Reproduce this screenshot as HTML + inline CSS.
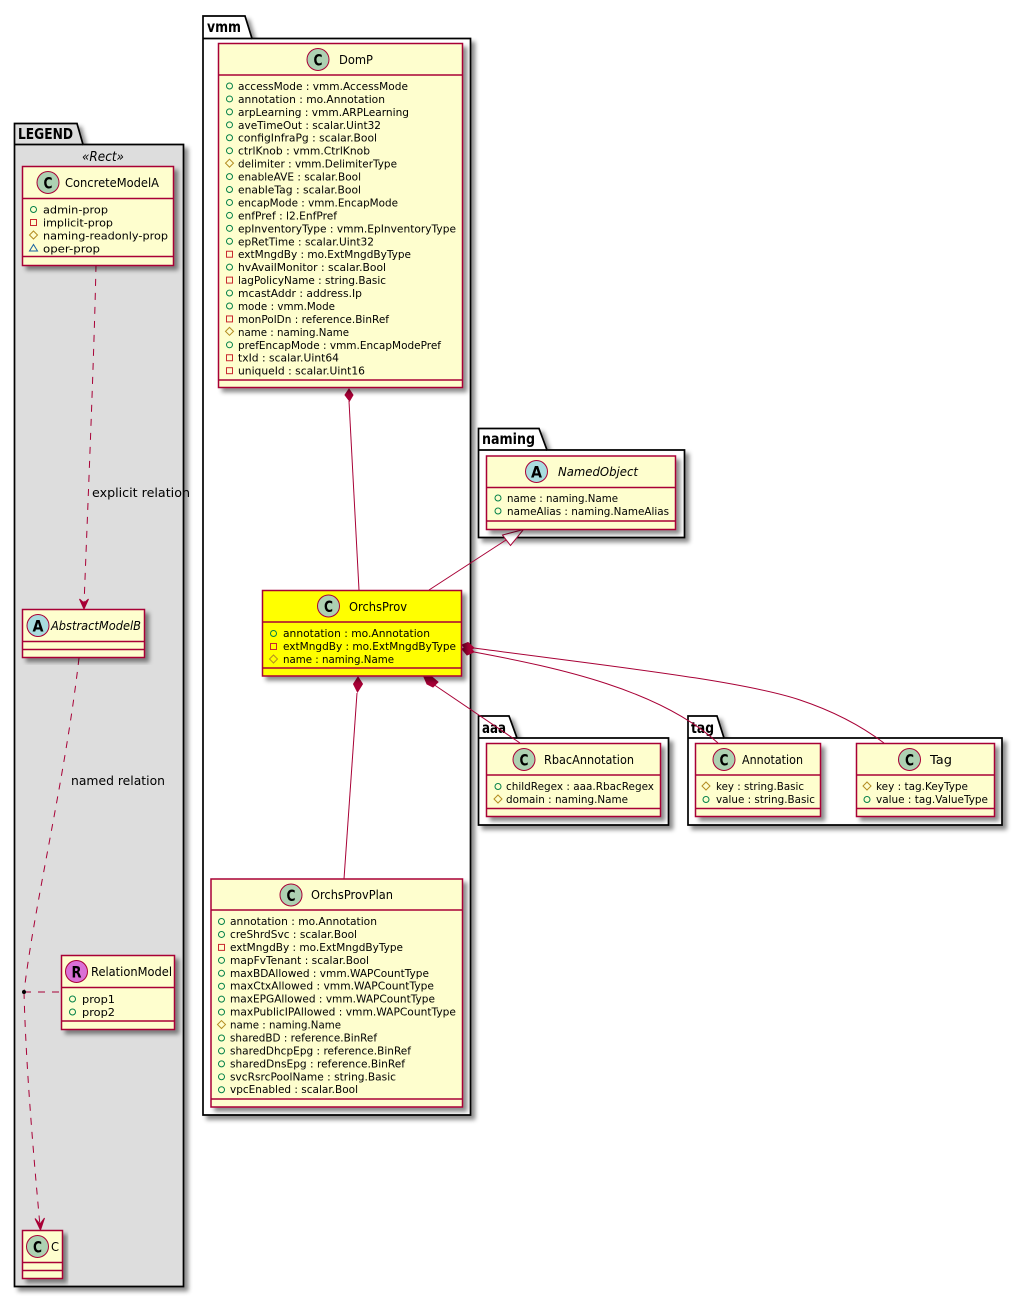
<!DOCTYPE html>
<html>
<head>
<meta charset="utf-8">
<style>
html,body{margin:0;padding:0;background:#fff;width:1023px;height:1297px;overflow:hidden}
svg{display:block}
text{font-family:"DejaVu Sans","Liberation Sans",sans-serif;fill:#000}
.r{font-size:11px}
.t{font-size:12.5px}
.i{font-style:italic}
.p{font-size:15px;font-weight:bold}
.l{font-size:12.5px}
.c{font-size:16px;font-weight:bold;text-anchor:middle}
.pk{stroke:#000;stroke-width:1.7;fill:#fff}
.b{fill:#FEFECE;stroke:#A80036;stroke-width:1.5}
.d{stroke:#A80036;stroke-width:1.5;fill:none}
.cn{stroke:#A80036;stroke-width:1;fill:none}
.da{stroke-dasharray:7,7}
.ci{fill:#ADD1B2;stroke:#A80036;stroke-width:1}
.fd{fill:#A80036;stroke:#A80036;stroke-width:1}
</style>
</head>
<body>
<svg xmlns="http://www.w3.org/2000/svg" width="1023" height="1297" viewBox="0 0 1023 1297">
<defs>
<filter id="s" x="-10%" y="-10%" width="125%" height="125%">
<feDropShadow dx="4" dy="4" stdDeviation="2" flood-color="#000" flood-opacity="0.45"/>
</filter>
<circle id="pub" r="3" fill="none" stroke="#038048"/>
<rect id="pri" x="-3" y="-3" width="6" height="6" fill="none" stroke="#C82930"/>
<polygon id="pro" points="0,-4 4,0 0,4 -4,0" fill="none" stroke="#B38D22"/>
<polygon id="pkg" points="0,-3.5 4,3 -4,3" fill="none" stroke="#1963A0"/>
</defs>

<!-- LEGEND -->
<g filter="url(#s)"><path class="pk" style="fill:#DDD" d="M14.500,144.500 V123.500 H77 L83,144.500 H183.500 V1286.500 H14.500 Z"/></g>
<path class="pk" style="fill:none" d="M14.500,144.500 H83"/>
<text class="p" x="18" y="139" textLength="55" lengthAdjust="spacingAndGlyphs">LEGEND</text>
<text class="t i" x="82" y="161" textLength="42" lengthAdjust="spacingAndGlyphs" style="font-size:13px">«Rect»</text>

<!-- vmm -->
<g filter="url(#s)"><path class="pk" d="M203,38.500 V16 H245 L252,38.500 H470.500 V1115 H203 Z"/></g>
<path class="pk" style="fill:none" d="M203,38.500 H252"/>
<text class="p" x="207" y="32" textLength="34" lengthAdjust="spacingAndGlyphs">vmm</text>

<!-- naming -->
<g filter="url(#s)"><path class="pk" d="M478.500,450 V428.500 H539 L547,450 H684.500 V537.500 H478.500 Z"/></g>
<path class="pk" style="fill:none" d="M478.500,450 H547"/>
<text class="p" x="482" y="444" textLength="53" lengthAdjust="spacingAndGlyphs">naming</text>

<!-- aaa -->
<g filter="url(#s)"><path class="pk" d="M478.500,738 V716 H509 L517,738 H668.500 V825 H478.500 Z"/></g>
<path class="pk" style="fill:none" d="M478.500,738 H517"/>
<text class="p" x="482" y="733" textLength="24" lengthAdjust="spacingAndGlyphs">aaa</text>

<!-- tag -->
<g filter="url(#s)"><path class="pk" d="M688,738 V716 H717 L724,738 H1002 V825 H688 Z"/></g>
<path class="pk" style="fill:none" d="M688,738 H724"/>
<text class="p" x="691" y="733" textLength="23" lengthAdjust="spacingAndGlyphs">tag</text>

<!-- connectors -->
<path class="cn da" d="M96,265 C94,360 88,500 84,605"/>
<polygon class="fd" points="84,609 79.500,599 84,603 88.500,599"/>
<text class="l" x="92" y="497" textLength="98" lengthAdjust="spacingAndGlyphs">explicit relation</text>
<path class="cn da" d="M79,658 C65,780 35,900 24,992"/>
<text class="l" x="71" y="785" textLength="94" lengthAdjust="spacingAndGlyphs">named relation</text>
<path class="cn da" d="M24,992 C26,1070 34,1160 40,1226"/>
<polygon class="fd" points="40.500,1230 35,1218.500 40,1224 44.500,1218"/>
<path class="cn da" d="M24,992 H61"/>
<circle cx="24" cy="992" r="2" fill="#000"/>

<path class="cn" d="M349,401 L359,590"/>
<polygon class="fd" points="349,389 353,395 349.500,401 345,395"/>
<path class="cn" d="M429,590 L506,540"/>
<polygon points="523.500,529.500 502.500,535 510.500,545.500" fill="#fff" stroke="#A80036" stroke-width="1"/>
<path class="cn" d="M357,693 L344,879"/>
<polygon class="fd" points="358,677 362.500,684 357.500,692 353.500,684"/>
<path class="cn" d="M433,684 L520,743"/>
<polygon class="fd" points="424,677 432,677 438,682 433,687 427,684"/>
<path class="cn" d="M474,652 C560,668 660,690 718,743"/>
<polygon class="fd" points="462,649 468,645.500 474,652 467,655"/>
<path class="cn" d="M474,648 C600,665 740,680 800,700 C830,710 860,725 884,743"/>
<polygon class="fd" points="462,645 468,642.500 474,648 468,651"/>

<!-- ConcreteModelA -->
<rect class="b" x="22.500" y="166.500" width="151" height="99" filter="url(#s)"/>
<path class="d" d="M22.500,198.500 H173.500 M22.500,256.500 H173.500"/>
<circle class="ci" cx="48" cy="182.500" r="11"/><text class="c" x="48" y="188.500" textLength="9" lengthAdjust="spacingAndGlyphs">C</text>
<text class="t" x="65" y="187" textLength="94" lengthAdjust="spacingAndGlyphs">ConcreteModelA</text>
<use href="#pub" x="33.500" y="209.500"/><text class="r" x="43" y="213.500" textLength="65" lengthAdjust="spacingAndGlyphs">admin-prop</text>
<use href="#pri" x="33.500" y="222.500"/><text class="r" x="43" y="226.500" textLength="70" lengthAdjust="spacingAndGlyphs">implicit-prop</text>
<use href="#pro" x="33.500" y="235"/><text class="r" x="43" y="239.500" textLength="125" lengthAdjust="spacingAndGlyphs">naming-readonly-prop</text>
<use href="#pkg" x="33.500" y="248"/><text class="r" x="43" y="252.500" textLength="57" lengthAdjust="spacingAndGlyphs">oper-prop</text>

<!-- AbstractModelB -->
<rect class="b" x="22.500" y="609.500" width="122" height="48" filter="url(#s)"/>
<path class="d" d="M22.500,641.500 H144.500 M22.500,649.500 H144.500"/>
<circle class="ci" style="fill:#A9DCDF" cx="38" cy="625.500" r="11"/><text class="c" x="38" y="631.500" textLength="11" lengthAdjust="spacingAndGlyphs">A</text>
<text class="t i" x="51" y="630" textLength="90" lengthAdjust="spacingAndGlyphs">AbstractModelB</text>

<!-- RelationModel -->
<rect class="b" x="61.500" y="955.500" width="113" height="74" filter="url(#s)"/>
<path class="d" d="M61.500,987.500 H174.500 M61.500,1021 H174.500"/>
<circle class="ci" style="fill:#DA70D6" cx="76.500" cy="971.500" r="11"/><text class="c" x="76.500" y="977.500" textLength="10" lengthAdjust="spacingAndGlyphs">R</text>
<text class="t" x="91" y="976" textLength="81" lengthAdjust="spacingAndGlyphs">RelationModel</text>
<use href="#pub" x="72.500" y="999"/><text class="r" x="82" y="1003" textLength="33" lengthAdjust="spacingAndGlyphs">prop1</text>
<use href="#pub" x="72.500" y="1012"/><text class="r" x="82" y="1016" textLength="33" lengthAdjust="spacingAndGlyphs">prop2</text>

<!-- C -->
<rect class="b" x="22.500" y="1230.500" width="40" height="48" filter="url(#s)"/>
<path class="d" d="M22.500,1262.500 H62.500 M22.500,1270.500 H62.500"/>
<circle class="ci" cx="37.500" cy="1246.500" r="11"/><text class="c" x="37.500" y="1252.500" textLength="9" lengthAdjust="spacingAndGlyphs">C</text>
<text class="t" x="51" y="1251" textLength="8" lengthAdjust="spacingAndGlyphs">C</text>

<!-- DomP -->
<rect class="b" x="218.500" y="43.500" width="244" height="344" filter="url(#s)"/>
<path class="d" d="M218.500,75 H462.500 M218.500,380 H462.500"/>
<circle class="ci" cx="318" cy="59.500" r="11"/><text class="c" x="318" y="65.500" textLength="9" lengthAdjust="spacingAndGlyphs">C</text>
<text class="t" x="339" y="64" textLength="34" lengthAdjust="spacingAndGlyphs">DomP</text>
<g transform="matrix(1 0 0 0.9954 0 0.4)">
<use href="#pub" x="229.500" y="86"/><text class="r" x="238" y="90" textLength="170" lengthAdjust="spacingAndGlyphs">accessMode : vmm.AccessMode</text>
<use href="#pub" x="229.500" y="99"/><text class="r" x="238" y="103" textLength="147" lengthAdjust="spacingAndGlyphs">annotation : mo.Annotation</text>
<use href="#pub" x="229.500" y="112"/><text class="r" x="238" y="116" textLength="171" lengthAdjust="spacingAndGlyphs">arpLearning : vmm.ARPLearning</text>
<use href="#pub" x="229.500" y="125"/><text class="r" x="238" y="129" textLength="143" lengthAdjust="spacingAndGlyphs">aveTimeOut : scalar.Uint32</text>
<use href="#pub" x="229.500" y="138"/><text class="r" x="238" y="142" textLength="139" lengthAdjust="spacingAndGlyphs">configInfraPg : scalar.Bool</text>
<use href="#pub" x="229.500" y="151"/><text class="r" x="238" y="155" textLength="132" lengthAdjust="spacingAndGlyphs">ctrlKnob : vmm.CtrlKnob</text>
<use href="#pro" x="229.500" y="163.500"/><text class="r" x="238" y="168" textLength="159" lengthAdjust="spacingAndGlyphs">delimiter : vmm.DelimiterType</text>
<use href="#pub" x="229.500" y="177"/><text class="r" x="238" y="181" textLength="123" lengthAdjust="spacingAndGlyphs">enableAVE : scalar.Bool</text>
<use href="#pub" x="229.500" y="190"/><text class="r" x="238" y="194" textLength="123" lengthAdjust="spacingAndGlyphs">enableTag : scalar.Bool</text>
<use href="#pub" x="229.500" y="203"/><text class="r" x="238" y="207" textLength="160" lengthAdjust="spacingAndGlyphs">encapMode : vmm.EncapMode</text>
<use href="#pub" x="229.500" y="216"/><text class="r" x="238" y="220" textLength="99" lengthAdjust="spacingAndGlyphs">enfPref : l2.EnfPref</text>
<use href="#pub" x="229.500" y="229"/><text class="r" x="238" y="233" textLength="218" lengthAdjust="spacingAndGlyphs">epInventoryType : vmm.EpInventoryType</text>
<use href="#pub" x="229.500" y="242"/><text class="r" x="238" y="246" textLength="136" lengthAdjust="spacingAndGlyphs">epRetTime : scalar.Uint32</text>
<use href="#pri" x="229.500" y="255"/><text class="r" x="238" y="259" textLength="173" lengthAdjust="spacingAndGlyphs">extMngdBy : mo.ExtMngdByType</text>
<use href="#pub" x="229.500" y="268"/><text class="r" x="238" y="272" textLength="148" lengthAdjust="spacingAndGlyphs">hvAvailMonitor : scalar.Bool</text>
<use href="#pri" x="229.500" y="281"/><text class="r" x="238" y="285" textLength="148" lengthAdjust="spacingAndGlyphs">lagPolicyName : string.Basic</text>
<use href="#pub" x="229.500" y="294"/><text class="r" x="238" y="298" textLength="124" lengthAdjust="spacingAndGlyphs">mcastAddr : address.Ip</text>
<use href="#pub" x="229.500" y="307"/><text class="r" x="238" y="311" textLength="97" lengthAdjust="spacingAndGlyphs">mode : vmm.Mode</text>
<use href="#pri" x="229.500" y="320"/><text class="r" x="238" y="324" textLength="151" lengthAdjust="spacingAndGlyphs">monPolDn : reference.BinRef</text>
<use href="#pro" x="229.500" y="332.500"/><text class="r" x="238" y="337" textLength="111" lengthAdjust="spacingAndGlyphs">name : naming.Name</text>
<use href="#pub" x="229.500" y="346"/><text class="r" x="238" y="350" textLength="203" lengthAdjust="spacingAndGlyphs">prefEncapMode : vmm.EncapModePref</text>
<use href="#pri" x="229.500" y="359"/><text class="r" x="238" y="363" textLength="101" lengthAdjust="spacingAndGlyphs">txId : scalar.Uint64</text>
<use href="#pri" x="229.500" y="372"/><text class="r" x="238" y="376" textLength="127" lengthAdjust="spacingAndGlyphs">uniqueId : scalar.Uint16</text>
</g>

<!-- NamedObject -->
<rect class="b" x="486.500" y="456" width="189" height="73.500" filter="url(#s)"/>
<path class="d" d="M486.500,487.500 H675.500 M486.500,521 H675.500"/>
<circle class="ci" style="fill:#A9DCDF" cx="536.500" cy="471.500" r="11"/><text class="c" x="536.500" y="477.500" textLength="11" lengthAdjust="spacingAndGlyphs">A</text>
<text class="t i" x="558" y="476" textLength="80" lengthAdjust="spacingAndGlyphs">NamedObject</text>
<use href="#pub" x="498" y="498"/><text class="r" x="507" y="502" textLength="111" lengthAdjust="spacingAndGlyphs">name : naming.Name</text>
<use href="#pub" x="498" y="511"/><text class="r" x="507" y="515" textLength="162" lengthAdjust="spacingAndGlyphs">nameAlias : naming.NameAlias</text>

<!-- OrchsProv -->
<rect class="b" style="fill:#FFFF00" x="262.500" y="590.500" width="199" height="85.500" filter="url(#s)"/>
<path class="d" d="M262.500,622 H461.500 M262.500,668 H461.500"/>
<circle class="ci" cx="328.500" cy="606" r="11"/><text class="c" x="328.500" y="612" textLength="9" lengthAdjust="spacingAndGlyphs">C</text>
<text class="t" x="349" y="611" textLength="58" lengthAdjust="spacingAndGlyphs">OrchsProv</text>
<use href="#pub" x="273.500" y="633.500"/><text class="r" x="283" y="637" textLength="147" lengthAdjust="spacingAndGlyphs">annotation : mo.Annotation</text>
<use href="#pri" x="273.500" y="646.500"/><text class="r" x="283" y="650" textLength="173" lengthAdjust="spacingAndGlyphs">extMngdBy : mo.ExtMngdByType</text>
<use href="#pro" x="273.500" y="659"/><text class="r" x="283" y="663" textLength="111" lengthAdjust="spacingAndGlyphs">name : naming.Name</text>

<!-- RbacAnnotation -->
<rect class="b" x="486.500" y="743.500" width="174" height="73" filter="url(#s)"/>
<path class="d" d="M486.500,775 H660.500 M486.500,808.500 H660.500"/>
<circle class="ci" cx="524" cy="759.500" r="11"/><text class="c" x="524" y="765.500" textLength="9" lengthAdjust="spacingAndGlyphs">C</text>
<text class="t" x="544" y="764" textLength="90" lengthAdjust="spacingAndGlyphs">RbacAnnotation</text>
<use href="#pub" x="498" y="786.500"/><text class="r" x="506" y="790" textLength="148" lengthAdjust="spacingAndGlyphs">childRegex : aaa.RbacRegex</text>
<use href="#pro" x="498" y="799"/><text class="r" x="506" y="803" textLength="122" lengthAdjust="spacingAndGlyphs">domain : naming.Name</text>

<!-- Annotation -->
<rect class="b" x="695.500" y="743.500" width="125" height="73" filter="url(#s)"/>
<path class="d" d="M695.500,775 H820.500 M695.500,808.500 H820.500"/>
<circle class="ci" cx="724" cy="759.500" r="11"/><text class="c" x="724" y="765.500" textLength="9" lengthAdjust="spacingAndGlyphs">C</text>
<text class="t" x="742" y="764" textLength="61" lengthAdjust="spacingAndGlyphs">Annotation</text>
<use href="#pro" x="706" y="786"/><text class="r" x="716" y="790" textLength="88" lengthAdjust="spacingAndGlyphs">key : string.Basic</text>
<use href="#pub" x="706" y="799.500"/><text class="r" x="716" y="803" textLength="99" lengthAdjust="spacingAndGlyphs">value : string.Basic</text>

<!-- Tag -->
<rect class="b" x="856.500" y="743.500" width="138" height="73" filter="url(#s)"/>
<path class="d" d="M856.500,775 H994.500 M856.500,808.500 H994.500"/>
<circle class="ci" cx="909.500" cy="759.500" r="11"/><text class="c" x="909.500" y="765.500" textLength="9" lengthAdjust="spacingAndGlyphs">C</text>
<text class="t" x="930" y="764" textLength="22" lengthAdjust="spacingAndGlyphs">Tag</text>
<use href="#pro" x="867" y="786"/><text class="r" x="876" y="790" textLength="92" lengthAdjust="spacingAndGlyphs">key : tag.KeyType</text>
<use href="#pub" x="867" y="799.500"/><text class="r" x="876" y="803" textLength="112" lengthAdjust="spacingAndGlyphs">value : tag.ValueType</text>

<!-- OrchsProvPlan -->
<rect class="b" x="211" y="879" width="251.500" height="228" filter="url(#s)"/>
<path class="d" d="M211,910 H462.500 M211,1099 H462.500"/>
<circle class="ci" cx="291" cy="895" r="11"/><text class="c" x="291" y="901" textLength="9" lengthAdjust="spacingAndGlyphs">C</text>
<text class="t" x="311" y="899" textLength="82" lengthAdjust="spacingAndGlyphs">OrchsProvPlan</text>
<g transform="matrix(1 0 0 0.9954 0 4.255)">
<use href="#pub" x="221.500" y="921.500"/><text class="r" x="230" y="925" textLength="147" lengthAdjust="spacingAndGlyphs">annotation : mo.Annotation</text>
<use href="#pub" x="221.500" y="934.500"/><text class="r" x="230" y="938" textLength="127" lengthAdjust="spacingAndGlyphs">creShrdSvc : scalar.Bool</text>
<use href="#pri" x="221.500" y="947.500"/><text class="r" x="230" y="951" textLength="173" lengthAdjust="spacingAndGlyphs">extMngdBy : mo.ExtMngdByType</text>
<use href="#pub" x="221.500" y="960.500"/><text class="r" x="230" y="964" textLength="139" lengthAdjust="spacingAndGlyphs">mapFvTenant : scalar.Bool</text>
<use href="#pub" x="221.500" y="973.500"/><text class="r" x="230" y="977" textLength="199" lengthAdjust="spacingAndGlyphs">maxBDAllowed : vmm.WAPCountType</text>
<use href="#pub" x="221.500" y="986.500"/><text class="r" x="230" y="990" textLength="204" lengthAdjust="spacingAndGlyphs">maxCtxAllowed : vmm.WAPCountType</text>
<use href="#pub" x="221.500" y="999.500"/><text class="r" x="230" y="1003" textLength="205" lengthAdjust="spacingAndGlyphs">maxEPGAllowed : vmm.WAPCountType</text>
<use href="#pub" x="221.500" y="1012.500"/><text class="r" x="230" y="1016" textLength="226" lengthAdjust="spacingAndGlyphs">maxPublicIPAllowed : vmm.WAPCountType</text>
<use href="#pro" x="221.500" y="1025"/><text class="r" x="230" y="1029" textLength="111" lengthAdjust="spacingAndGlyphs">name : naming.Name</text>
<use href="#pub" x="221.500" y="1038.500"/><text class="r" x="230" y="1042" textLength="147" lengthAdjust="spacingAndGlyphs">sharedBD : reference.BinRef</text>
<use href="#pub" x="221.500" y="1051.500"/><text class="r" x="230" y="1055" textLength="181" lengthAdjust="spacingAndGlyphs">sharedDhcpEpg : reference.BinRef</text>
<use href="#pub" x="221.500" y="1064.500"/><text class="r" x="230" y="1068" textLength="175" lengthAdjust="spacingAndGlyphs">sharedDnsEpg : reference.BinRef</text>
<use href="#pub" x="221.500" y="1077.500"/><text class="r" x="230" y="1081" textLength="166" lengthAdjust="spacingAndGlyphs">svcRsrcPoolName : string.Basic</text>
<use href="#pub" x="221.500" y="1090.500"/><text class="r" x="230" y="1094" textLength="128" lengthAdjust="spacingAndGlyphs">vpcEnabled : scalar.Bool</text>
</g>
</svg>
</body>
</html>
